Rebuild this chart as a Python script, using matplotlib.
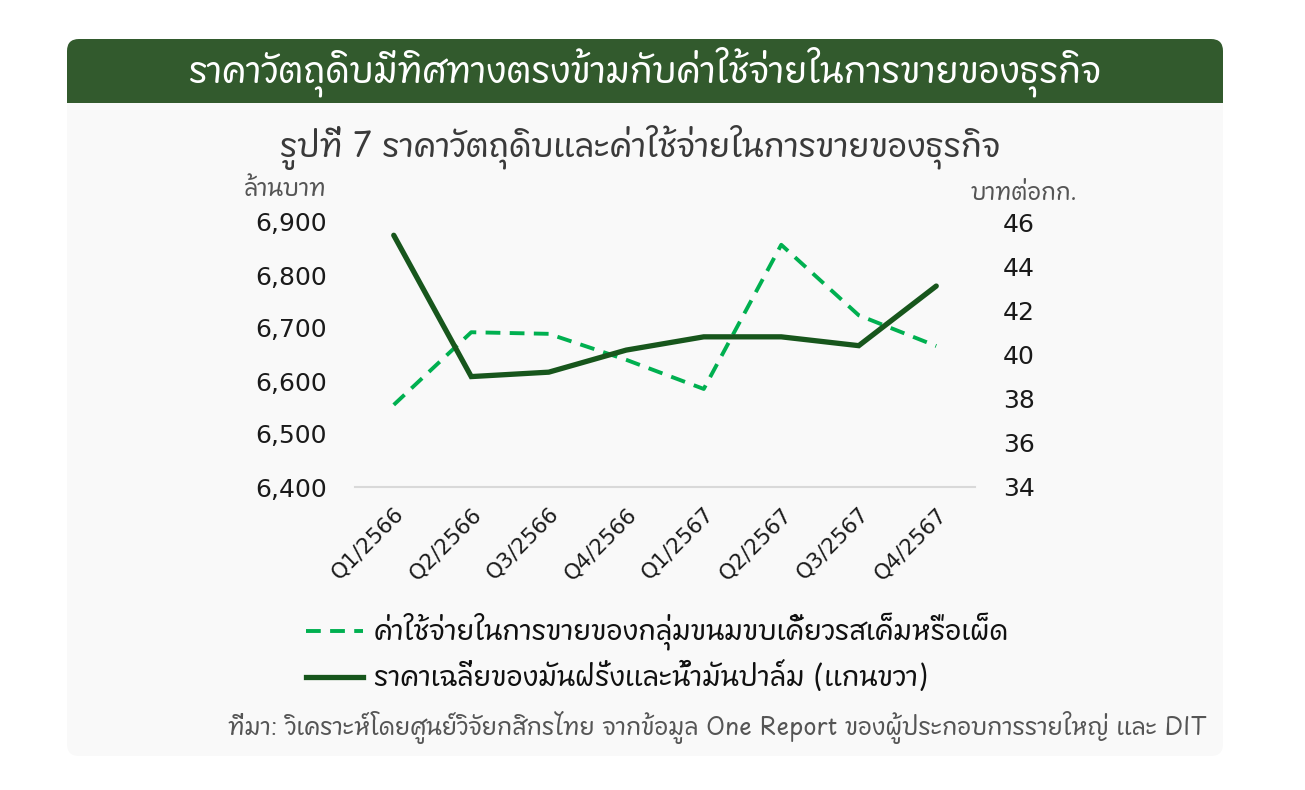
import matplotlib
matplotlib.use("Agg")
import matplotlib.pyplot as plt
from matplotlib import font_manager, ft2font
from matplotlib.patches import FancyBboxPatch, Rectangle
from matplotlib.lines import Line2D

# ---- data -------------------------------------------------------------
quarters = ["Q1/2566", "Q2/2566", "Q3/2566", "Q4/2566",
            "Q1/2567", "Q2/2567", "Q3/2567", "Q4/2567"]
selling_expense = [6555, 6692, 6689, 6640, 6585, 6857, 6724, 6666]   # million baht
oil_price = [45.4, 39.0, 39.2, 40.2, 40.8, 40.8, 40.4, 43.1]         # baht per kg

left_ticks = [6400, 6500, 6600, 6700, 6800, 6900]
right_ticks = [34, 36, 38, 40, 42, 44, 46]

header_text = "ราคาวัตถุดิบมีทิศทางตรงข้ามกับค่าใช้จ่ายในการขายของธุรกิจ"
chart_title = "รูปที่ 7 ราคาวัตถุดิบและค่าใช้จ่ายในการขายของธุรกิจ"
left_unit = "ล้านบาท"
right_unit = "บาทต่อกก."
legend_labels = ["ค่าใช้จ่ายในการขายของกลุ่มขนมขบเคี้ยวรสเค็มหรือเผ็ด",
                 "ราคาเฉลี่ยของมันฝรั่งและน้ำมันปาล์ม (แกนขวา)"]
source_text = ("ที่มา: วิเคราะห์โดยศูนย์วิจัยกสิกรไทย จากข้อมูล One Report "
               "ของผู้ประกอบการรายใหญ่ และ DIT")


# ---- fonts: pick an installed family that covers Thai ------------------
def find_thai_family():
    found = []
    for f in font_manager.fontManager.ttflist:
        try:
            cmap = ft2font.FT2Font(f.fname).get_charmap()
        except Exception:
            continue
        if 0x0E01 in cmap and 0x0E32 in cmap and 0x0E49 in cmap:
            found.append(f.name)
    if not found:
        return None
    def rank(n):
        s = 0
        if "Sans" in n:
            s -= 2
        if "Thai" in n:
            s -= 1
        if "Looped" in n or "UI" in n:
            s += 1
        return s
    return sorted(set(found), key=rank)[0]


thai = find_thai_family()
families = ([thai] if thai else []) + ["DejaVu Sans"]
plt.rcParams["font.family"] = families

W, H = 1305, 790
fig = plt.figure(figsize=(W / 100, H / 100), dpi=100)
fig.patch.set_facecolor("white")

# background layer in pixel coordinates (y measured from bottom)
bg = fig.add_axes([0, 0, 1, 1])
bg.set_xlim(0, W)
bg.set_ylim(0, H)
bg.axis("off")

panel_col = "#f9f9f9"
header_col = "#325a2d"
x0, x1 = 67, 1223
top, bottom, header_bottom = 39, 756, 103


def Y(y):
    return H - y


bg.add_patch(FancyBboxPatch((x0, Y(bottom)), x1 - x0, bottom - top,
                            boxstyle="round,pad=0,rounding_size=12",
                            fc=panel_col, ec="none"))
bg.add_patch(FancyBboxPatch((x0, Y(header_bottom + 20)), x1 - x0, header_bottom + 20 - top,
                            boxstyle="round,pad=0,rounding_size=12",
                            fc=header_col, ec="none"))
bg.add_patch(Rectangle((x0, Y(header_bottom + 22)), x1 - x0, 22,
                       fc=panel_col, ec="none"))

bg.text(645, Y(72), header_text, color="white", fontsize=25.5,
        ha="center", va="center")
bg.text(640, Y(147), chart_title, color="#3a3a3a", fontsize=23.5,
        ha="center", va="center")
bg.text(285, Y(190), left_unit, color="#555555", fontsize=17,
        ha="center", va="center")
bg.text(971, Y(193), right_unit, color="#555555", fontsize=16.5,
        ha="left", va="center")
bg.text(1207, Y(727), source_text, color="#555555", fontsize=17,
        ha="right", va="center")

# ---- chart --------------------------------------------------------------
dash_col = "#00b050"
solid_col = "#17561c"

ax = fig.add_axes([355 / W, 1 - 487 / H, (975 - 355) / W, (487 - 222) / H])
ax.patch.set_alpha(0)
ax2 = ax.twinx()
ax2.patch.set_alpha(0)

xs = list(range(len(quarters)))
ax.plot(xs, selling_expense, color=dash_col, lw=2.8, ls=(0, (3.8, 2.4)),
        clip_on=False, zorder=3)
ax2.plot(xs, oil_price, color=solid_col, lw=3.8, solid_capstyle="round",
         solid_joinstyle="miter", clip_on=False, zorder=4)

ax.set_xlim(-0.5, 7.5)
ax.set_ylim(6400, 6900)
ax2.set_ylim(34, 46)

ax.set_yticks(left_ticks)
ax.set_yticklabels([f"{v:,}" for v in left_ticks], fontsize=18,
                   family="DejaVu Sans", color="#1a1a1a")
ax2.set_yticks(right_ticks)
ax2.set_yticklabels([str(v) for v in right_ticks], fontsize=18,
                    family="DejaVu Sans", color="#1a1a1a")
ax.tick_params(axis="y", length=0, pad=20)
ax2.tick_params(axis="y", length=0, pad=20)

ax.set_xticks(xs)
ax.set_xticklabels(quarters, rotation=45, ha="right", va="top",
                   rotation_mode="anchor", fontsize=15.5,
                   family="DejaVu Sans", color="#1a1a1a")
ax.tick_params(axis="x", length=0, pad=12)

for a in (ax, ax2):
    for s in a.spines.values():
        s.set_visible(False)
ax.spines["bottom"].set_visible(True)
ax.spines["bottom"].set_color("#d9d9d9")
ax.spines["bottom"].set_linewidth(1.5)

# ---- legend ---------------------------------------------------------------
leg_handles = [Line2D([], [], color=dash_col, lw=2.8, ls=(0, (3.8, 2.4))),
               Line2D([], [], color=solid_col, lw=3.8)]
fig.legend(leg_handles, legend_labels, loc="upper left",
           bbox_to_anchor=(281 / W, 1 - 588 / H), frameon=False,
           fontsize=19.7, handlelength=2.1, handletextpad=0.4,
           labelspacing=0.42, labelcolor="#111111")

fig.savefig("out.png", dpi=100, facecolor="white")
